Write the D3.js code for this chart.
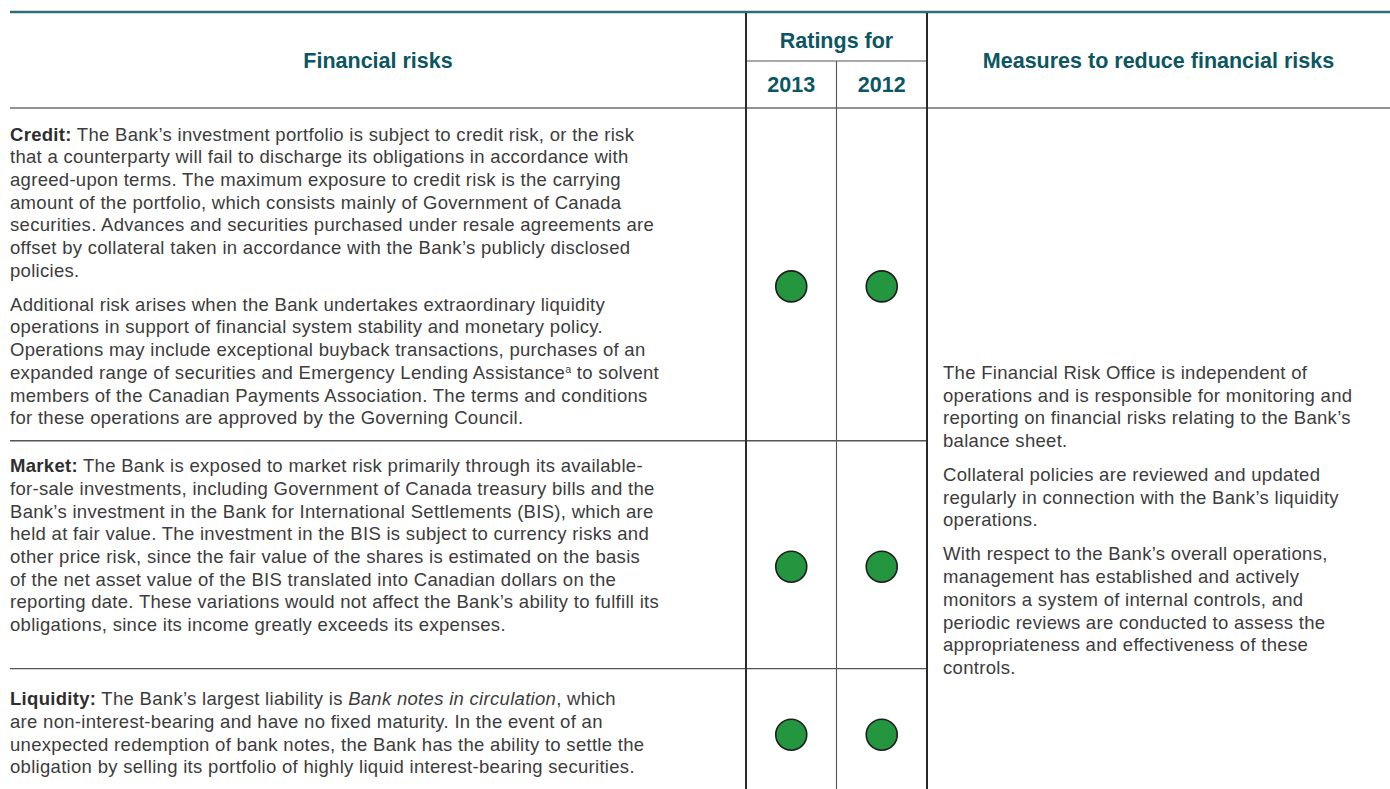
<!DOCTYPE html>
<html>
<head>
<meta charset="utf-8">
<script src="https://cdn.jsdelivr.net/npm/d3@7"></script>
<style>
  body { margin: 0; background: #fff; }
  svg { display: block; }
</style>
</head>
<body>
<script>
// table content
const headers = { risks: "Financial risks", ratings: "Ratings for", measures: "Measures to reduce financial risks" };
const years = ["2013", "2012"];
const risks = ["Credit", "Market", "Liquidity"];
const ratings2013 = ["low", "low", "low"];
const ratings2012 = ["low", "low", "low"];

const creditText = [
  ["**Credit:** The Bank’s investment portfolio is subject to credit risk, or the risk",
   "that a counterparty will fail to discharge its obligations in accordance with",
   "agreed-upon terms. The maximum exposure to credit risk is the carrying",
   "amount of the portfolio, which consists mainly of Government of Canada",
   "securities. Advances and securities purchased under resale agreements are",
   "offset by collateral taken in accordance with the Bank’s publicly disclosed",
   "policies."],
  ["Additional risk arises when the Bank undertakes extraordinary liquidity",
   "operations in support of financial system stability and monetary policy.",
   "Operations may include exceptional buyback transactions, purchases of an",
   "expanded range of securities and Emergency Lending Assistance^a^ to solvent",
   "members of the Canadian Payments Association. The terms and conditions",
   "for these operations are approved by the Governing Council."]
];
const marketText = [
  ["**Market:** The Bank is exposed to market risk primarily through its available-",
   "for-sale investments, including Government of Canada treasury bills and the",
   "Bank’s investment in the Bank for International Settlements (BIS), which are",
   "held at fair value. The investment in the BIS is subject to currency risks and",
   "other price risk, since the fair value of the shares is estimated on the basis",
   "of the net asset value of the BIS translated into Canadian dollars on the",
   "reporting date. These variations would not affect the Bank’s ability to fulfill its",
   "obligations, since its income greatly exceeds its expenses."]
];
const liquidityText = [
  ["**Liquidity:** The Bank’s largest liability is _Bank notes in circulation_, which",
   "are non-interest-bearing and have no fixed maturity. In the event of an",
   "unexpected redemption of bank notes, the Bank has the ability to settle the",
   "obligation by selling its portfolio of highly liquid interest-bearing securities."]
];
const measuresText = [
  ["The Financial Risk Office is independent of",
   "operations and is responsible for monitoring and",
   "reporting on financial risks relating to the Bank’s",
   "balance sheet."],
  ["Collateral policies are reviewed and updated",
   "regularly in connection with the Bank’s liquidity",
   "operations."],
  ["With respect to the Bank’s overall operations,",
   "management has established and actively",
   "monitors a system of internal controls, and",
   "periodic reviews are conducted to assess the",
   "appropriateness and effectiveness of these",
   "controls."]
];

const width = 1390, height = 789;
const fontSize = 18.5, lh = 22.7, paraGap = 0.5;
const teal = "#0b5661", textColor = "#3c3c3c";

const x0 = 10, xRate = 746, xRateEnd = 927, xEnd = 1390;
const yTop = 12, yHead = 108, ySub = 61;

const yearX = d3.scaleBand().domain(years).range([xRate, xRateEnd]);
const ratingColor = d3.scaleOrdinal().domain(["low", "medium", "high"]).range(["#23963f", "#f2c21b", "#d52b1e"]);

const svg = d3.select("body").append("svg").attr("width", width).attr("height", height)
  .style("font-family", "'Liberation Sans', Arial, Helvetica, sans-serif");

// header text
const head = svg.append("g").attr("fill", teal).attr("font-weight", "bold")
  .attr("text-anchor", "middle").attr("font-size", 21.5);
head.append("text").attr("x", (x0 + xRate) / 2).attr("y", 68).text(headers.risks);
head.append("text").attr("x", (xRate + xRateEnd) / 2).attr("y", 48).text(headers.ratings);
head.append("text").attr("x", (xRateEnd + xEnd) / 2).attr("y", 68).text(headers.measures);
head.selectAll(".yr").data(years).enter().append("text")
  .attr("x", d => yearX(d) + yearX.bandwidth() / 2).attr("y", 92).text(d => d);

// write a line with simple markup: **bold**, _italic_, ^sup^
function writeLine(sel, str) {
  let shift = 0;
  str.split(/(\*\*.+?\*\*|_.+?_|\^.+?\^)/).filter(s => s).forEach(part => {
    const t = sel.append("tspan");
    if (shift) { t.attr("dy", shift); shift = 0; }
    if (part.startsWith("**")) t.attr("font-weight", "bold").attr("fill", "#2e2e2e").text(part.slice(2, -2));
    else if (part.startsWith("_")) t.attr("font-style", "italic").text(part.slice(1, -1));
    else if (part.startsWith("^")) {
      t.attr("font-size", fontSize * 0.58).attr("dy", -6).text(part.slice(1, -1));
      shift = 6;
    } else t.text(part);
  });
}

// paragraphs -> list of line centers
function layout(paras, yStart) {
  const out = [];
  let y = yStart;
  paras.forEach((p, i) => {
    if (i > 0) y += lh * paraGap;
    p.forEach(l => { out.push({ text: l, y: y }); y += lh; });
  });
  return out;
}

const rowTexts = [creditText, marketText, liquidityText];
const padTop = [26, 25, 30], padBottom = [23, 44, 10];
let cursor = yHead;
const rows = rowTexts.map((paras, i) => {
  const lines = layout(paras, cursor + padTop[i]);
  const bottom = lines[lines.length - 1].y + padBottom[i];
  const r = { name: risks[i], top: cursor, bottom: bottom, lines: lines, r2013: ratings2013[i], r2012: ratings2012[i] };
  cursor = bottom;
  return r;
});

const body = svg.append("g").attr("font-size", fontSize).attr("fill", textColor).attr("letter-spacing", 0.3);
rows.forEach(r => {
  r.lines.forEach(l => {
    const t = body.append("text").attr("x", x0).attr("y", l.y + 6.5);
    writeLine(t, l.text);
  });
});

// measures column, starts beside the credit row's 2nd paragraph
const mLines = layout(measuresText, rows[0].lines[10].y);
mLines.forEach(l => {
  body.append("text").attr("x", 943).attr("y", l.y + 6.5).text(l.text);
});

// rating circles (the dots sit a little below the row's middle)
const dots = [];
rows.forEach(r => {
  const cy = (r.top + r.bottom) / 2 + 12;
  dots.push({ year: "2013", v: r.r2013, cy: cy });
  dots.push({ year: "2012", v: r.r2012, cy: cy });
});
svg.append("g").selectAll("circle").data(dots).enter().append("circle")
  .attr("cx", d => yearX(d.year) + yearX.bandwidth() / 2)
  .attr("cy", d => d.cy)
  .attr("r", 15.5)
  .attr("fill", d => ratingColor(d.v))
  .attr("stroke", "#1e1e1e").attr("stroke-width", 1.6);

// grid lines
const g = svg.append("g");
g.append("line").attr("x1", x0).attr("x2", xEnd).attr("y1", yTop).attr("y2", yTop)
  .attr("stroke", "#2d6e78").attr("stroke-width", 2.5);
g.append("line").attr("x1", x0).attr("x2", xEnd).attr("y1", yHead).attr("y2", yHead)
  .attr("stroke", "#6e6e6e").attr("stroke-width", 1.5);
g.append("line").attr("x1", xRate).attr("x2", xRateEnd).attr("y1", ySub).attr("y2", ySub)
  .attr("stroke", "#555").attr("stroke-width", 1.2);
rows.slice(0, -1).forEach(r => {
  g.append("line").attr("x1", x0).attr("x2", xRateEnd).attr("y1", r.bottom).attr("y2", r.bottom)
    .attr("stroke", "#555").attr("stroke-width", 1.3);
});
[xRate, xRateEnd].forEach(x => {
  g.append("line").attr("x1", x).attr("x2", x).attr("y1", yTop + 1).attr("y2", height)
    .attr("stroke", "#2a2a2a").attr("stroke-width", 2);
});
g.append("line").attr("x1", yearX("2012")).attr("x2", yearX("2012")).attr("y1", ySub).attr("y2", height)
  .attr("stroke", "#555").attr("stroke-width", 1.1);
</script>
</body>
</html>
